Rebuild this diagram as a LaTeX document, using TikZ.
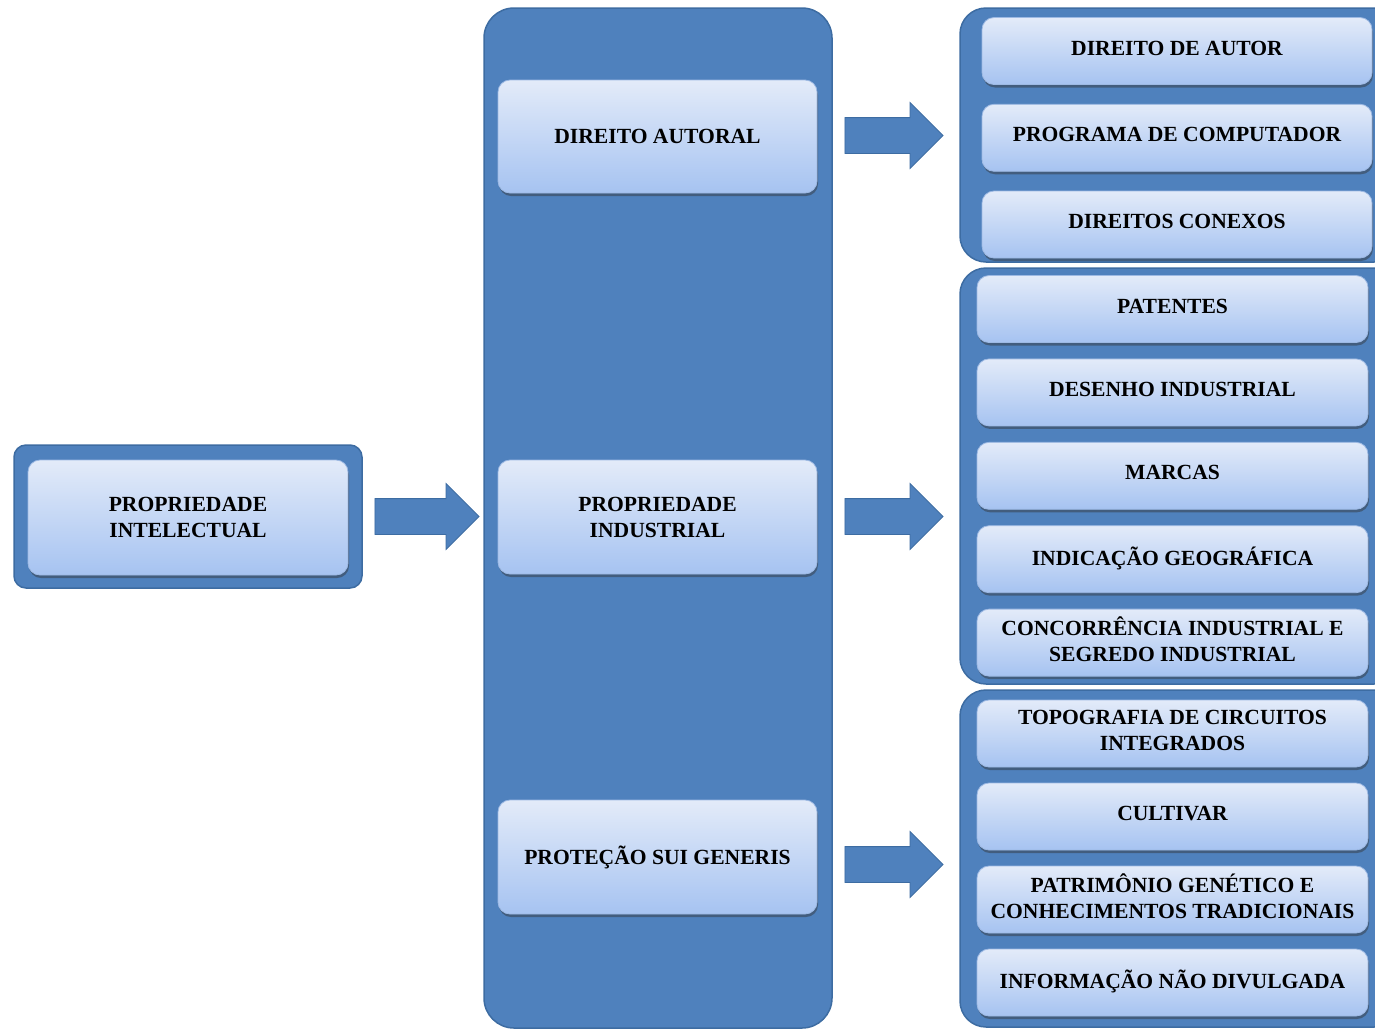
\documentclass[tikz,border=0pt]{standalone}
\usepackage{fontspec}
\setmainfont{Liberation Serif}
\usepackage{tikz}
\usetikzlibrary{shapes.arrows,shadows}

\definecolor{boxblue}{HTML}{4F81BD}
\definecolor{boxline}{HTML}{3D6CA2}
\definecolor{itemtop}{HTML}{E3EBF9}
\definecolor{itembottom}{HTML}{A6C3F1}
\definecolor{itemline}{HTML}{9DB9E3}

\tikzset{
  groupbox/.style={draw=boxline, line width=1.5pt, fill=boxblue, inner sep=0pt},
  itembox/.style={draw=itemline, line width=0.8pt, rounded corners=12pt,
    top color=itemtop, bottom color=itembottom, inner sep=0pt, align=center,
    font=\bfseries\fontsize{21.6}{26}\selectfont,
    drop shadow={shadow xshift=1pt, shadow yshift=-3pt, opacity=0.45, fill=black!80}},
  rightitem/.style={itembox, minimum height=67, text depth=6pt},
  blockarrow/.style={single arrow, draw=boxline, line width=0.8pt, fill=boxblue,
    inner xsep=0pt, inner ysep=17.5pt, single arrow head extend=15pt}
}

\begin{document}
\begin{tikzpicture}[x=1pt, y=-1pt]
  \useasboundingbox (0,0) rectangle (1375,1029);
  \clip (0,0) rectangle (1375,1029);

  % left
  \node[groupbox, rounded corners=12pt, minimum width=348, minimum height=143] (piouter) at (188,516.5) {};
  \node[itembox, minimum width=320, minimum height=115] (pi) at (188,517.5) {PROPRIEDADE\\INTELECTUAL};

  % middle
  \node[groupbox, rounded corners=30pt, minimum width=348, minimum height=1020] (midouter) at (658,518) {};
  \node[itembox, minimum width=319, minimum height=113] (da) at (657.5,136.5) {DIREITO AUTORAL};
  \node[itembox, minimum width=319, minimum height=114] (pind) at (657.5,517) {PROPRIEDADE\\INDUSTRIAL};
  \node[itembox, minimum width=319, minimum height=114] (psg) at (657.5,857) {PROTEÇÃO SUI GENERIS};

  % right
  \node[groupbox, rounded corners=26pt, minimum width=440, minimum height=254] (daouter) at (1180,135) {};
  \node[groupbox, rounded corners=26pt, minimum width=440, minimum height=416] (pindouter) at (1180,476) {};
  \node[groupbox, rounded corners=26pt, minimum width=440, minimum height=337] (psgouter) at (1180,858.5) {};

  \foreach \txt [count=\i] in {DIREITO DE AUTOR, PROGRAMA DE COMPUTADOR, DIREITOS CONEXOS}
    \node[rightitem, minimum width=390] (da\i) at (1177,{51+86.75*(\i-1)}) {\txt};

  \foreach \txt [count=\i] in {PATENTES, DESENHO INDUSTRIAL, MARCAS, INDICAÇÃO GEOGRÁFICA,
      {CONCORRÊNCIA INDUSTRIAL E\\SEGREDO INDUSTRIAL}}
    \node[rightitem, minimum width=391] (pind\i) at (1172.5,{309+83.4*(\i-1)}) {\txt};

  \foreach \txt [count=\i] in {{TOPOGRAFIA DE CIRCUITOS\\INTEGRADOS}, CULTIVAR,
      {PATRIMÔNIO GENÉTICO E\\CONHECIMENTOS TRADICIONAIS}, INFORMAÇÃO NÃO DIVULGADA}
    \node[rightitem, minimum width=391] (psg\i) at (1172.5,{733.5+83*(\i-1)}) {\txt};

  % arrows
  \node[blockarrow, minimum height=104] (a1) at (418,516.5) {};
  \node[blockarrow, minimum height=98] (a2) at (885,135.5) {};
  \node[blockarrow, minimum height=98] (a3) at (885,516.5) {};
  \node[blockarrow, minimum height=98] (a4) at (885,864.5) {};
\end{tikzpicture}
\end{document}
